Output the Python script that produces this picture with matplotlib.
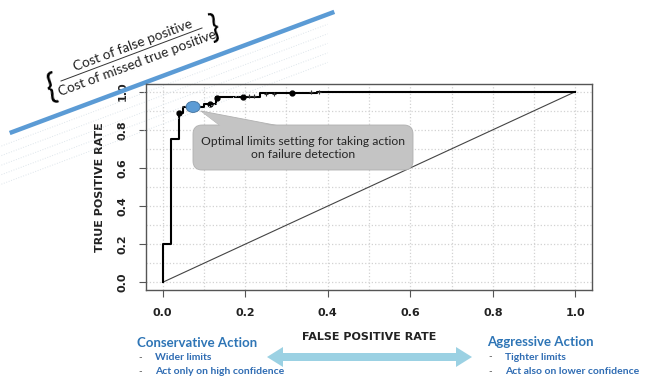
import numpy as np
import matplotlib.pyplot as plt
from matplotlib.patches import Ellipse, FancyBboxPatch, Polygon

# ROC curve (step function)
roc_fpr = [0, 0, 0.02, 0.02, 0.04, 0.04, 0.05, 0.05, 0.10, 0.10, 0.13, 0.13,
           0.235, 0.235, 0.375, 0.375, 1.0]
roc_tpr = [0, 0.2, 0.2, 0.75, 0.75, 0.887, 0.887, 0.92, 0.92, 0.934, 0.934, 0.972,
           0.972, 0.993, 0.993, 1.0, 1.0]

# threshold markers along the curve
dot_fpr = [0.04, 0.115, 0.133, 0.194, 0.313]
dot_tpr = [0.887, 0.934, 0.966, 0.972, 0.993]
tick_fpr = [0.21, 0.222, 0.25, 0.27, 0.36, 0.38]
tick_tpr = [0.975, 0.975, 0.99, 0.99, 0.997, 0.997]

# chosen operating point
opt_fpr, opt_tpr = 0.074, 0.920

# iso-cost line: tpr = intercept + slope * fpr
cost_slope = 0.808
cost_intercept = 1.082
iso_intercepts = [1.03, 0.98, 0.93, 0.88, 0.83]

x_ticks = [0.0, 0.2, 0.4, 0.6, 0.8, 1.0]
y_ticks = [0.0, 0.2, 0.4, 0.6, 0.8, 1.0]

W, H = 653, 379
fig = plt.figure(figsize=(W / 100, H / 100), dpi=100)

ax = fig.add_axes([146 / W, 1 - 290 / H, (592 - 146) / W, (290 - 84) / H])
ax.set_xlim(-0.04, 1.04)
ax.set_ylim(-0.04, 1.04)

grid = np.round(np.arange(0, 1.01, 0.1), 1)
ax.set_xticks(grid, minor=True)
ax.set_yticks(grid, minor=True)
ax.grid(which='both', color='#d2d2d2', linestyle=':', linewidth=0.9)
ax.set_axisbelow(True)

ax.set_xticks(x_ticks)
ax.set_yticks(y_ticks)
ax.set_xticklabels([f'{v:.1f}' for v in x_ticks])
ax.set_yticklabels([f'{v:.1f}' for v in y_ticks], rotation=90, va='center')
ax.tick_params(which='minor', length=0)
ax.tick_params(which='major', length=5, width=0.8, color='#555555',
               labelsize=8, labelcolor='#222222', pad=8)
for lab in ax.get_xticklabels() + ax.get_yticklabels():
    lab.set_fontweight('bold')
for sp in ax.spines.values():
    sp.set_color('#555555')
    sp.set_linewidth(1.0)

ax.set_xlabel('FALSE POSITIVE RATE', fontsize=8, fontweight='bold', color='#222222', labelpad=10)
ax.set_ylabel('TRUE POSITIVE RATE', fontsize=8, fontweight='bold', color='#222222', labelpad=9)

# chance diagonal
ax.plot([0, 1], [0, 1], color='#444444', linewidth=0.8)

# ROC curve
ax.plot(roc_fpr, roc_tpr, color='black', linewidth=1.5)
ax.plot(dot_fpr, dot_tpr, 'o', color='black', markersize=3.5)
ax.plot(tick_fpr, tick_tpr, '+', color='#333333', markersize=3, markeredgewidth=0.8)

# iso-cost lines
xs = np.array([-0.40, 0.40])
for b in iso_intercepts:
    ax.plot(xs, b + cost_slope * xs, color='#dde5eb', linestyle=':', linewidth=0.7,
            clip_on=False)
xb = np.array([-0.37, 0.416])
ax.plot(xb, cost_intercept + cost_slope * xb, color='#5b9bd5', linewidth=3.2,
        clip_on=False, solid_capstyle='butt')

ax.add_patch(Ellipse((opt_fpr, opt_tpr), 0.034, 0.058, facecolor='#5b9bd5',
                     edgecolor='#41719c', linewidth=0.6, zorder=5))

# overlay in pixel coordinates for the annotations
ov = fig.add_axes([0, 0, 1, 1], facecolor='none')
ov.set_xlim(0, W)
ov.set_ylim(H, 0)
ov.axis('off')

ang = 20.45
ov.text(132.5, 45, 'Cost of false positive', rotation=ang, rotation_mode='anchor',
        ha='center', va='center', family='Lato', fontsize=9.8, color='#222222')
ov.text(137.5, 63, 'Cost of missed true positive', rotation=ang, rotation_mode='anchor',
        ha='center', va='center', family='Lato', fontsize=9.8, color='#222222')
ov.plot([61, 202], [81, 28], color='#333333', linewidth=0.7)
ov.text(52, 88, '{', rotation=12, ha='center', va='center', family='Lato',
        fontsize=25, color='black')
ov.text(215, 28, '}', rotation=12, ha='center', va='center', family='Lato',
        fontsize=23, color='black')

# callout
ov.add_patch(Polygon([(222, 127), (285, 127), (201, 111)], closed=True,
                     facecolor='#c4c4c4', edgecolor='#b0b0b0', linewidth=0.6, zorder=3))
ov.add_patch(FancyBboxPatch((193, 125), 220, 45, boxstyle='round,pad=0,rounding_size=9',
                            facecolor='#c4c4c4', edgecolor='#b0b0b0', linewidth=0.6, zorder=4))
ov.add_patch(Polygon([(223, 128), (284, 128), (202, 112)], closed=True,
                     facecolor='#c4c4c4', edgecolor='none', zorder=4.5))
ov.text(303, 148, 'Optimal limits setting for taking action\non failure detection',
        ha='center', va='center', family='Lato', fontsize=8.7, color='#262626',
        linespacing=1.3, zorder=5)

# double arrow at the bottom
cy = 357
ov.add_patch(Polygon([(267, cy), (283, cy - 10), (283, cy - 4), (456, cy - 4), (456, cy - 10),
                      (472, cy), (456, cy + 10), (456, cy + 4), (283, cy + 4), (283, cy + 10)],
                     closed=True, facecolor='#9bd1e3', edgecolor='none'))

head_col = '#2e75b6'
item_col = '#2f6cb3'
ov.text(137, 343, 'Conservative Action', ha='left', va='center', family='Lato',
        fontsize=9.5, fontweight='bold', color=head_col)
ov.text(138, 358, '-', ha='left', va='center', family='Lato', fontsize=7, color='#555555')
ov.text(138, 372, '-', ha='left', va='center', family='Lato', fontsize=7, color='#555555')
ov.text(155, 358, 'Wider limits', ha='left', va='center', family='Lato',
        fontsize=7.5, fontweight='bold', color=item_col)
ov.text(155, 372, 'Act only on high confidence', ha='left', va='center', family='Lato',
        fontsize=7.5, fontweight='bold', color=item_col)

ov.text(487, 342, 'Aggressive Action', ha='left', va='center', family='Lato',
        fontsize=9.5, fontweight='bold', color=head_col)
ov.text(488, 357, '-', ha='left', va='center', family='Lato', fontsize=7, color='#555555')
ov.text(488, 372, '-', ha='left', va='center', family='Lato', fontsize=7, color='#555555')
ov.text(505, 357, 'Tighter limits', ha='left', va='center', family='Lato',
        fontsize=7.5, fontweight='bold', color=item_col)
ov.text(505, 372, 'Act also on lower confidence', ha='left', va='center', family='Lato',
        fontsize=7.5, fontweight='bold', color=item_col)

fig.savefig('out.png', dpi=100)
